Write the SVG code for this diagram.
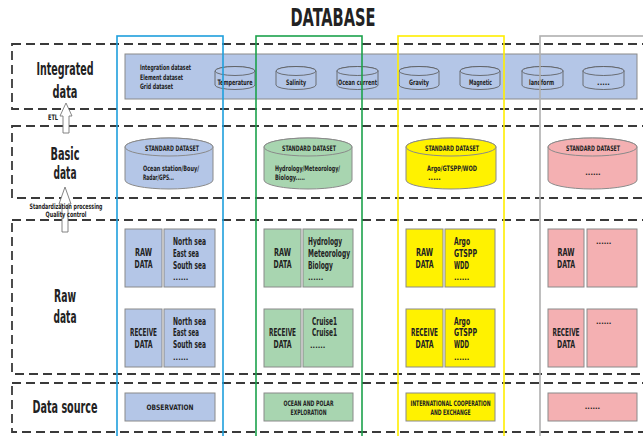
<svg xmlns="http://www.w3.org/2000/svg" width="643" height="436" viewBox="0 0 643 436">
<style>
text{font-family:"DejaVu Sans Condensed","DejaVu Sans",sans-serif;font-weight:bold;fill:#222;font-stretch:condensed}
.t{font-size:24px}
.row{font-size:17px;text-anchor:middle}
.s{font-size:7.5px}
.sm{font-size:7.5px;text-anchor:middle}
.m{font-size:10px;text-anchor:middle}
.ml{font-size:10px}
.dash{fill:none;stroke:#3a3a3a;stroke-width:1.8;stroke-dasharray:9 5}
.bl{fill:#b4c6e7;stroke:#8a8a8a;stroke-width:1}
.gr{fill:#a8d5b0;stroke:#8a8a8a;stroke-width:1}
.ye{fill:#fff200;stroke:#8a8a8a;stroke-width:1}
.pk{fill:#f4b0b2;stroke:#8a8a8a;stroke-width:1}
.cy{fill:#b4c6e7;stroke:#555;stroke-width:0.8}
.arr{fill:#fff;stroke:#777;stroke-width:0.9}
</style>
<rect width="643" height="436" fill="#fff"/>
<text class="t" x="333" y="26" text-anchor="middle" textLength="85" lengthAdjust="spacingAndGlyphs">DATABASE</text>

<g id="row-frames">
<rect class="dash" x="12" y="44" width="650" height="65"/>
<rect class="dash" x="12" y="126" width="650" height="72"/>
<rect class="dash" x="12" y="220" width="650" height="154"/>
<rect class="dash" x="12" y="383" width="650" height="49"/>
</g>

<g id="row-labels">
<text class="row" x="65" y="75" textLength="57" lengthAdjust="spacingAndGlyphs">Integrated</text>
<text class="row" x="65" y="98" textLength="25" lengthAdjust="spacingAndGlyphs">data</text>
<text class="row" x="65" y="160" textLength="29" lengthAdjust="spacingAndGlyphs">Basic</text>
<text class="row" x="65" y="179" textLength="23" lengthAdjust="spacingAndGlyphs">data</text>
<text class="row" x="65" y="302" textLength="22" lengthAdjust="spacingAndGlyphs">Raw</text>
<text class="row" x="65" y="323" textLength="23" lengthAdjust="spacingAndGlyphs">data</text>
<text class="row" x="65" y="413" textLength="65" lengthAdjust="spacingAndGlyphs">Data source</text>
</g>

<g id="integrated">
<rect class="bl" x="125" y="54" width="512" height="45"/>
<text class="s" x="140" y="70" textLength="51" lengthAdjust="spacingAndGlyphs">Integration dataset</text>
<text class="s" x="140" y="79.5" textLength="43" lengthAdjust="spacingAndGlyphs">Element dataset</text>
<text class="s" x="140" y="89" textLength="33" lengthAdjust="spacingAndGlyphs">Grid dataset</text>
<g id="cyl-temperature"><path class="cy" d="M215,71 A20,4.5 0 0 1 255,71 L255,85 A20,4.5 0 0 1 215,85 Z"/><ellipse class="cy" cx="235" cy="71" rx="20" ry="4.5"/><text class="sm" x="235" y="84.5" textLength="35" lengthAdjust="spacingAndGlyphs">Temperature</text></g>
<g id="cyl-salinity"><path class="cy" d="M276,71 A20,4.5 0 0 1 316,71 L316,85 A20,4.5 0 0 1 276,85 Z"/><ellipse class="cy" cx="296" cy="71" rx="20" ry="4.5"/><text class="sm" x="296" y="84.5" textLength="20" lengthAdjust="spacingAndGlyphs">Salinity</text></g>
<g id="cyl-ocean-current"><path class="cy" d="M337,71 A20.5,4.5 0 0 1 378,71 L378,85 A20.5,4.5 0 0 1 337,85 Z"/><ellipse class="cy" cx="357.5" cy="71" rx="20.5" ry="4.5"/><text class="sm" x="357.5" y="84.5" textLength="39" lengthAdjust="spacingAndGlyphs">Ocean current</text></g>
<g id="cyl-gravity"><path class="cy" d="M399,71 A20,4.5 0 0 1 439,71 L439,85 A20,4.5 0 0 1 399,85 Z"/><ellipse class="cy" cx="419" cy="71" rx="20" ry="4.5"/><text class="sm" x="419" y="84.5" textLength="20" lengthAdjust="spacingAndGlyphs">Gravity</text></g>
<g id="cyl-magnetic"><path class="cy" d="M460,71 A20,4.5 0 0 1 500,71 L500,85 A20,4.5 0 0 1 460,85 Z"/><ellipse class="cy" cx="480" cy="71" rx="20" ry="4.5"/><text class="sm" x="480.5" y="84.5" textLength="23" lengthAdjust="spacingAndGlyphs">Magnetic</text></g>
<g id="cyl-landform"><path class="cy" d="M522,71 A20.5,4.5 0 0 1 563,71 L563,85 A20.5,4.5 0 0 1 522,85 Z"/><ellipse class="cy" cx="542.5" cy="71" rx="20.5" ry="4.5"/><text class="sm" x="541.5" y="84.5" textLength="25" lengthAdjust="spacingAndGlyphs">landform</text></g>
<g id="cyl-more"><path class="cy" d="M583,71 A20.5,4.5 0 0 1 624,71 L624,85 A20.5,4.5 0 0 1 583,85 Z"/><ellipse class="cy" cx="603.5" cy="71" rx="20.5" ry="4.5"/><text class="sm" x="603.5" y="84.5">.....</text></g>
</g>

<g id="basic-blue">
<path class="bl" d="M125,147 A44,9 0 0 1 213,147 L213,180 A44,9 0 0 1 125,180 Z"/><ellipse class="bl" cx="169" cy="147" rx="44" ry="9"/>
<text class="sm" x="172" y="150.5" textLength="54" lengthAdjust="spacingAndGlyphs">STANDARD DATASET</text>
<text class="s" x="143" y="170.5" textLength="56" lengthAdjust="spacingAndGlyphs">Ocean station/Bouy/</text>
<text class="s" x="143" y="179.5" textLength="31" lengthAdjust="spacingAndGlyphs">Radar/GPS...</text>
</g>
<g id="basic-green">
<path class="gr" d="M264,147 A44,9 0 0 1 352,147 L352,180 A44,9 0 0 1 264,180 Z"/><ellipse class="gr" cx="308" cy="147" rx="44" ry="9"/>
<text class="sm" x="309" y="150.5" textLength="54" lengthAdjust="spacingAndGlyphs">STANDARD DATASET</text>
<text class="s" x="275" y="170.5" textLength="65" lengthAdjust="spacingAndGlyphs">Hydrology/Meteorology/</text>
<text class="s" x="275" y="179.5" textLength="30" lengthAdjust="spacingAndGlyphs">Biology.....</text>
</g>
<g id="basic-yellow">
<path class="ye" d="M406,147 A45,9 0 0 1 496,147 L496,180 A45,9 0 0 1 406,180 Z"/><ellipse class="ye" cx="451" cy="147" rx="45" ry="9"/>
<text class="sm" x="452" y="150.5" textLength="54" lengthAdjust="spacingAndGlyphs">STANDARD DATASET</text>
<text class="sm" x="452" y="170.5" textLength="50" lengthAdjust="spacingAndGlyphs">Argo/GTSPP/WOD</text>
<text class="s" x="428" y="180">.....</text>
</g>
<g id="basic-pink">
<path class="pk" d="M548,147 A44.5,9 0 0 1 637,147 L637,180 A44.5,9 0 0 1 548,180 Z"/><ellipse class="pk" cx="592.5" cy="147" rx="44.5" ry="9"/>
<text class="sm" x="593" y="150.5" textLength="54" lengthAdjust="spacingAndGlyphs">STANDARD DATASET</text>
<text class="sm" x="593" y="175">......</text>
</g>

<g id="raw-blue">
<rect class="bl" x="125" y="229" width="37" height="58"/>
<text class="m" x="143.5" y="256" textLength="17" lengthAdjust="spacingAndGlyphs">RAW</text>
<text class="m" x="143.5" y="267.5" textLength="18" lengthAdjust="spacingAndGlyphs">DATA</text>
<rect class="bl" x="164" y="229" width="51" height="58"/>
<text class="ml" x="173" y="245" textLength="33" lengthAdjust="spacingAndGlyphs">North sea</text>
<text class="ml" x="173" y="257" textLength="26" lengthAdjust="spacingAndGlyphs">East sea</text>
<text class="ml" x="173" y="268.5" textLength="33" lengthAdjust="spacingAndGlyphs">South sea</text>
<text class="s" x="173" y="280">......</text>
</g>
<g id="receive-blue">
<rect class="bl" x="125" y="309" width="37" height="58"/>
<text class="m" x="143.5" y="336" textLength="27" lengthAdjust="spacingAndGlyphs">RECEIVE</text>
<text class="m" x="143.5" y="347.5" textLength="18" lengthAdjust="spacingAndGlyphs">DATA</text>
<rect class="bl" x="164" y="309" width="51" height="58"/>
<text class="ml" x="173" y="324.5" textLength="33" lengthAdjust="spacingAndGlyphs">North sea</text>
<text class="ml" x="173" y="336" textLength="26" lengthAdjust="spacingAndGlyphs">East sea</text>
<text class="ml" x="173" y="348" textLength="33" lengthAdjust="spacingAndGlyphs">South sea</text>
<text class="s" x="173" y="360">......</text>
</g>

<g id="raw-green">
<rect class="gr" x="264" y="229" width="37" height="58"/>
<text class="m" x="282.5" y="256" textLength="17" lengthAdjust="spacingAndGlyphs">RAW</text>
<text class="m" x="282.5" y="267.5" textLength="18" lengthAdjust="spacingAndGlyphs">DATA</text>
<rect class="gr" x="303" y="229" width="50" height="58"/>
<text class="ml" x="308" y="245" textLength="34" lengthAdjust="spacingAndGlyphs">Hydrology</text>
<text class="ml" x="308" y="257" textLength="42" lengthAdjust="spacingAndGlyphs">Meteorology</text>
<text class="ml" x="308" y="268.5" textLength="25" lengthAdjust="spacingAndGlyphs">Biology</text>
<text class="s" x="308" y="280">......</text>
</g>
<g id="receive-green">
<rect class="gr" x="264" y="309" width="37" height="58"/>
<text class="m" x="282.5" y="336" textLength="27" lengthAdjust="spacingAndGlyphs">RECEIVE</text>
<text class="m" x="282.5" y="347.5" textLength="18" lengthAdjust="spacingAndGlyphs">DATA</text>
<rect class="gr" x="303" y="309" width="50" height="58"/>
<text class="ml" x="312" y="324.5" textLength="25" lengthAdjust="spacingAndGlyphs">Cruise1</text>
<text class="ml" x="312" y="336" textLength="25" lengthAdjust="spacingAndGlyphs">Cruise1</text>
<text class="s" x="310" y="348">......</text>
</g>

<g id="raw-yellow">
<rect class="ye" x="406" y="229" width="37" height="58"/>
<text class="m" x="424.5" y="256" textLength="17" lengthAdjust="spacingAndGlyphs">RAW</text>
<text class="m" x="424.5" y="267.5" textLength="18" lengthAdjust="spacingAndGlyphs">DATA</text>
<rect class="ye" x="445" y="229" width="50" height="58"/>
<text class="ml" x="454" y="245" textLength="16" lengthAdjust="spacingAndGlyphs">Argo</text>
<text class="ml" x="454" y="257" textLength="23" lengthAdjust="spacingAndGlyphs">GTSPP</text>
<text class="ml" x="454" y="268.5" textLength="15" lengthAdjust="spacingAndGlyphs">WDD</text>
<text class="s" x="454" y="280">......</text>
</g>
<g id="receive-yellow">
<rect class="ye" x="406" y="309" width="37" height="58"/>
<text class="m" x="424.5" y="336" textLength="27" lengthAdjust="spacingAndGlyphs">RECEIVE</text>
<text class="m" x="424.5" y="347.5" textLength="18" lengthAdjust="spacingAndGlyphs">DATA</text>
<rect class="ye" x="445" y="309" width="50" height="58"/>
<text class="ml" x="454" y="324.5" textLength="16" lengthAdjust="spacingAndGlyphs">Argo</text>
<text class="ml" x="454" y="336" textLength="23" lengthAdjust="spacingAndGlyphs">GTSPP</text>
<text class="ml" x="454" y="348" textLength="15" lengthAdjust="spacingAndGlyphs">WDD</text>
<text class="s" x="454" y="360">......</text>
</g>

<g id="raw-pink">
<rect class="pk" x="548" y="229" width="36" height="58"/>
<text class="m" x="566" y="256" textLength="17" lengthAdjust="spacingAndGlyphs">RAW</text>
<text class="m" x="566" y="267.5" textLength="18" lengthAdjust="spacingAndGlyphs">DATA</text>
<rect class="pk" x="587" y="229" width="50" height="58"/>
<text class="s" x="596" y="244">......</text>
</g>
<g id="receive-pink">
<rect class="pk" x="548" y="309" width="36" height="58"/>
<text class="m" x="566" y="336" textLength="27" lengthAdjust="spacingAndGlyphs">RECEIVE</text>
<text class="m" x="566" y="347.5" textLength="18" lengthAdjust="spacingAndGlyphs">DATA</text>
<rect class="pk" x="587" y="309" width="50" height="58"/>
<text class="s" x="596" y="324">......</text>
</g>

<g id="source-observation">
<rect class="bl" x="125" y="393" width="90" height="28"/>
<text class="sm" x="170" y="410" textLength="47" lengthAdjust="spacingAndGlyphs">OBSERVATION</text>
</g>
<g id="source-ocean-polar">
<rect class="gr" x="264" y="393" width="89" height="28"/>
<text class="sm" x="308.5" y="405.5" textLength="50" lengthAdjust="spacingAndGlyphs">OCEAN AND POLAR</text>
<text class="sm" x="308.5" y="415" textLength="36" lengthAdjust="spacingAndGlyphs">EXPLORATION</text>
</g>
<g id="source-international">
<rect class="ye" x="406" y="393" width="89" height="28"/>
<text class="sm" x="450.5" y="405.5" textLength="80" lengthAdjust="spacingAndGlyphs">INTERNATIONAL COOPERATION</text>
<text class="sm" x="450.5" y="415" textLength="40" lengthAdjust="spacingAndGlyphs">AND EXCHANGE</text>
</g>
<g id="source-more">
<rect class="pk" x="548" y="393" width="89" height="28"/>
<text class="sm" x="592.5" y="409">......</text>
</g>

<g id="connectors">
<polygon class="arr" points="66,103 72,116 69,116 69,133 63,133 63,116 60,116"/>
<polygon class="arr" points="65,187 71,204 68,204 68,232 62,232 62,204 59,204"/>
<text class="s" x="48" y="119.5" textLength="10" lengthAdjust="spacingAndGlyphs">ETL</text>
<text class="sm" x="66" y="209" textLength="73" lengthAdjust="spacingAndGlyphs">Standardization processing</text>
<text class="sm" x="66" y="217" textLength="41" lengthAdjust="spacingAndGlyphs">Quality control</text>
</g>

<g id="columns" fill="none" stroke-width="1.6">
<rect x="117" y="36" width="106" height="420" stroke="#1f9fdc"/>
<rect x="256" y="36" width="106" height="420" stroke="#1ca24c"/>
<rect x="398" y="36" width="106" height="420" stroke="#ffee00"/>
<rect x="540" y="36" width="120" height="420" stroke="#b0b0b0"/>
</g>
</svg>
